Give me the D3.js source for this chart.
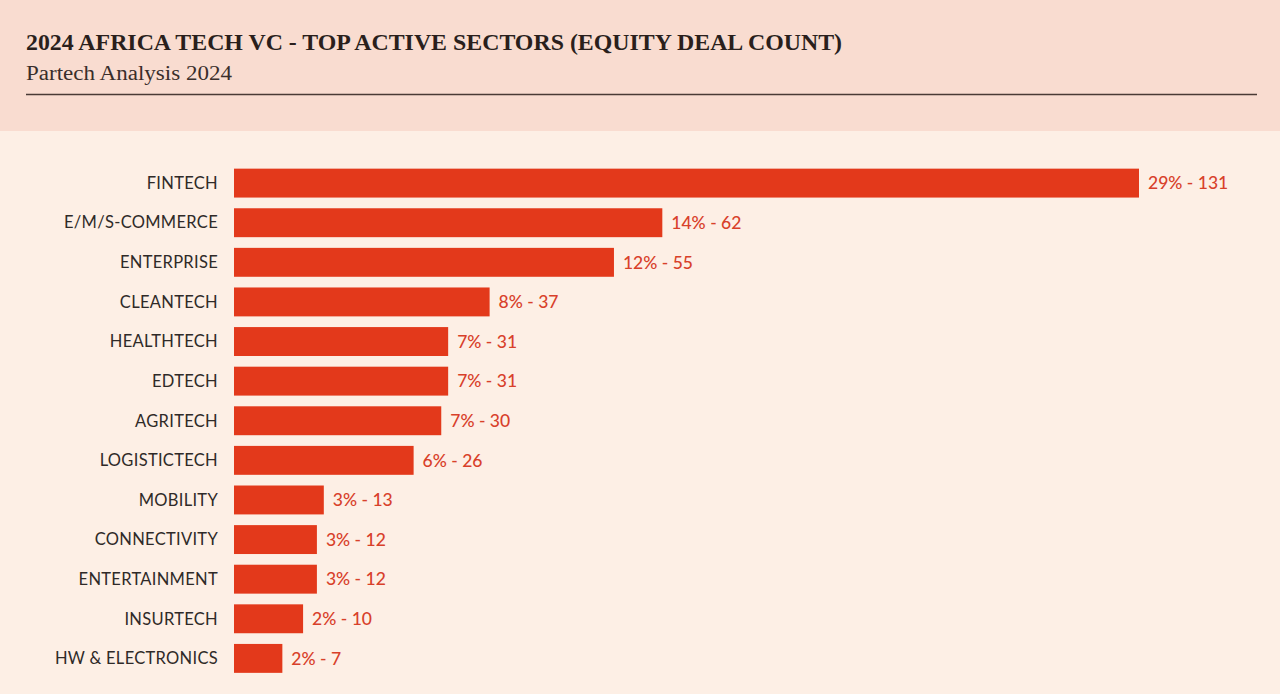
<!DOCTYPE html>
<html><head><meta charset="utf-8">
<script src="https://cdn.jsdelivr.net/npm/d3@7"></script>
<style>html,body{margin:0;padding:0;background:#fdefe5;}svg{display:block;}</style>
</head><body>
<svg id="chart" width="1280" height="694"></svg>
<script>
const categories = ["FINTECH","E/M/S-COMMERCE","ENTERPRISE","CLEANTECH","HEALTHTECH","EDTECH","AGRITECH","LOGISTICTECH","MOBILITY","CONNECTIVITY","ENTERTAINMENT","INSURTECH","HW & ELECTRONICS"];
const dealCounts = [131,62,55,37,31,31,30,26,13,12,12,10,7];
const shares = ["29%","14%","12%","8%","7%","7%","7%","6%","3%","3%","3%","2%","2%"];
const title = "2024 AFRICA TECH VC - TOP ACTIVE SECTORS (EQUITY DEAL COUNT)";
const subtitle = "Partech Analysis 2024";

const svg = d3.select("#chart");
const W = 1280, H = 694;
svg.append("rect").attr("width",W).attr("height",H).attr("fill","#fdefe5");
svg.append("rect").attr("width",W).attr("height",131).attr("fill","#f9dcd0");
svg.append("text").attr("x",26).attr("y",50).attr("font-family","Liberation Serif, serif")
  .attr("font-weight","bold").attr("font-size",23).attr("fill","#2a1f1c")
  .attr("textLength",816).attr("lengthAdjust","spacingAndGlyphs").text(title);
svg.append("text").attr("x",26).attr("y",80).attr("font-family","Liberation Serif, serif")
  .attr("font-size",20).attr("fill","#3a2e2b").attr("textLength",206).attr("lengthAdjust","spacingAndGlyphs").text(subtitle);
svg.append("line").attr("x1",26).attr("x2",1257).attr("y1",94.5).attr("y2",94.5)
  .attr("stroke","#4a3a35").attr("stroke-width",1.5);

const data = categories.map((c,i)=>({c, v:dealCounts[i], s:shares[i]}));
const x = d3.scaleLinear().domain([0,131]).range([234,1139]);
const y = d3.scaleBand().domain(categories).range([163.5,678]).paddingInner(0.27).paddingOuter(0.13);

const g = svg.append("g");
g.selectAll("rect.bar").data(data).enter().append("rect").attr("class","bar")
  .attr("x",x(0)).attr("y",d=>y(d.c)).attr("width",d=>x(d.v)-x(0)).attr("height",y.bandwidth())
  .attr("fill","#e3391b");
g.selectAll("text.cat").data(data).enter().append("text").attr("class","cat")
  .attr("x",218).attr("y",d=>y(d.c)+y.bandwidth()/2).attr("dy","0.35em").attr("text-anchor","end")
  .attr("font-family","Lato, 'Noto Sans', sans-serif").attr("font-size",16.5).attr("letter-spacing",0.3).attr("fill","#2f2a28")
  .text(d=>d.c);
g.selectAll("text.val").data(data).enter().append("text").attr("class","val")
  .attr("x",d=>x(d.v)+9).attr("y",d=>y(d.c)+y.bandwidth()/2).attr("dy","0.36em")
  .attr("font-family","Lato, 'Noto Sans', sans-serif").attr("font-size",17.5).attr("font-weight",500).attr("fill","#d8402a")
  .text(d=>d.s+" - "+d.v);
</script>
</body></html>
